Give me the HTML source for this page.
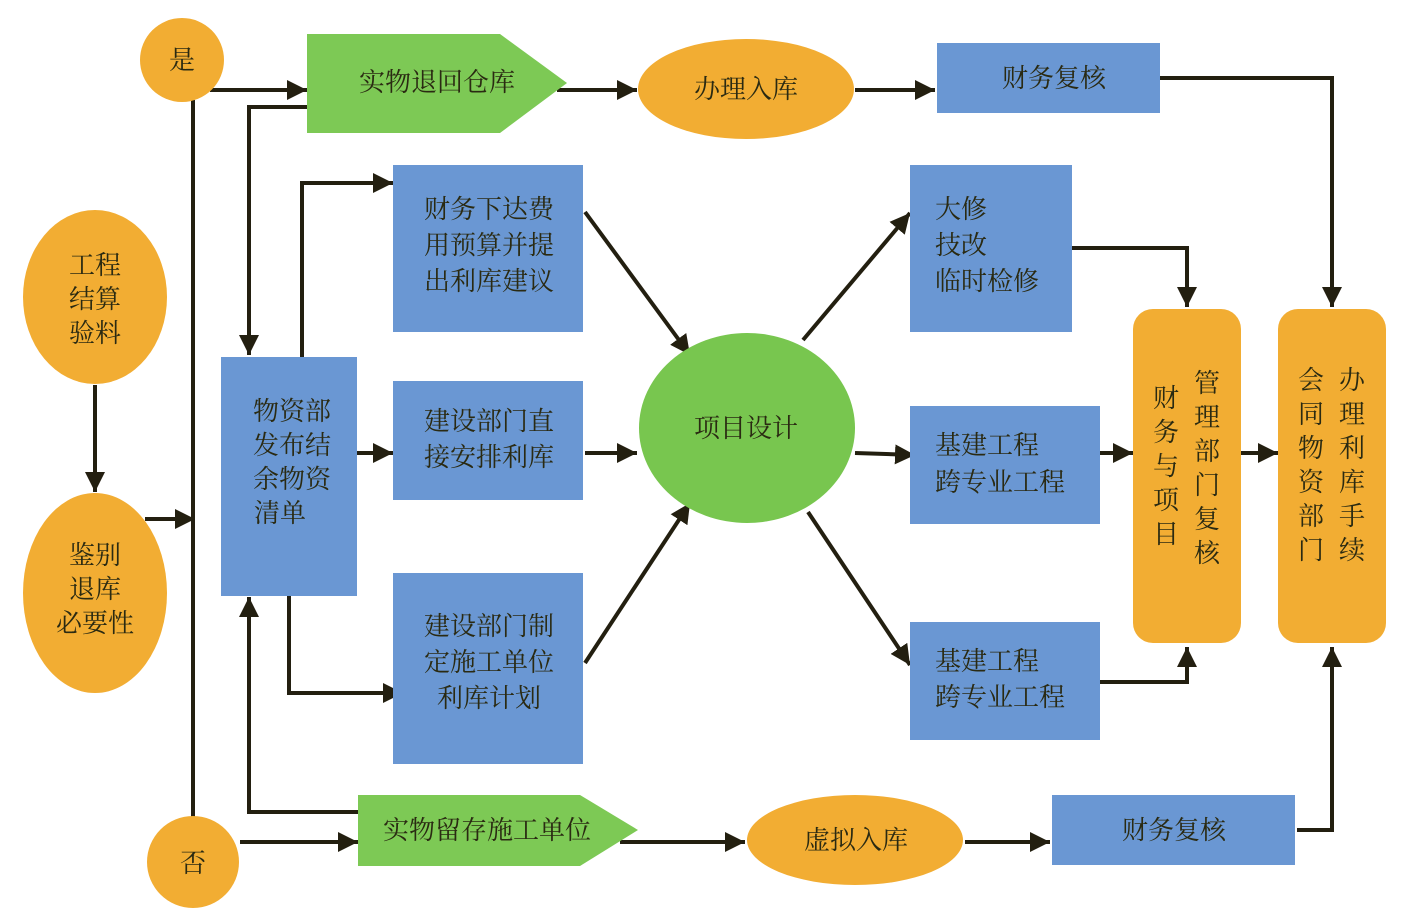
<!DOCTYPE html>
<html><head><meta charset="utf-8"><style>
html,body{margin:0;padding:0;background:#fff}
svg text{font-family:"Liberation Serif","Noto Serif CJK SC",serif;font-size:26px;fill:#2a2a12}
</style></head><body>
<svg width="1417" height="917" viewBox="0 0 1417 917" xmlns="http://www.w3.org/2000/svg">
<defs>
<marker id="b" viewBox="0 0 10 10" refX="10" refY="5" markerWidth="20" markerHeight="20" markerUnits="userSpaceOnUse" orient="auto"><path d="M0,0 L10,5 L0,10 z" fill="#231f10"/></marker></defs>
<g fill="none" stroke="#231f10" stroke-width="4" marker-end="url(#b)">
<path d="M95,385 V492"/>
<path d="M145,519 H195"/>
<path d="M210,90 H307"/>
<path d="M307,107 H249 V355"/>
<path d="M557,90 H637"/>
<path d="M855,90 H935"/>
<path d="M1160,78 H1332 V307"/>
<path d="M302,357 V183 H393"/>
<path d="M357,453 H393"/>
<path d="M289,596 V693 H403"/>
<path d="M585,212 L690,355"/>
<path d="M585,453 H637"/>
<path d="M585,663 L690,503"/>
<path d="M803,340 L910,213"/>
<path d="M855,453 L915,455"/>
<path d="M808,512 L910,665"/>
<path d="M1072,248 H1187 V307"/>
<path d="M1100,453 H1133"/>
<path d="M1100,682 H1187 V647"/>
<path d="M1241,453 H1278"/>
<path d="M240,842 H358"/>
<path d="M358,812 H249 V597"/>
<path d="M620,842 H745"/>
<path d="M965,842 H1050"/>
<path d="M1297,830 H1332 V647"/>
</g>
<path d="M193,100 V820" stroke="#231f10" stroke-width="4"/>
<g fill="#f2ad33">
<circle cx="182" cy="60" r="42"/>
<circle cx="193" cy="862" r="46"/>
<ellipse cx="95" cy="297" rx="72" ry="87"/>
<ellipse cx="95" cy="593" rx="72" ry="100"/>
<ellipse cx="746" cy="89" rx="108" ry="50"/>
<ellipse cx="855" cy="840" rx="108" ry="45"/>
<rect x="1133" y="309" width="108" height="334" rx="20"/>
<rect x="1278" y="309" width="108" height="334" rx="20"/>
</g>
<g fill="#7dc955">
<path d="M307,34 H500 L567,83 L500,133 H307 z"/>
<path d="M358,795 H580 L638,830 L580,866 H358 z"/>
<ellipse cx="747" cy="428" rx="108" ry="95" fill="#78c64f"/>
</g>
<g fill="#6a97d3">
<rect x="937" y="43" width="223" height="70"/>
<rect x="221" y="357" width="136" height="239"/>
<rect x="393" y="165" width="190" height="167"/>
<rect x="393" y="381" width="190" height="119"/>
<rect x="393" y="573" width="190" height="191"/>
<rect x="910" y="165" width="162" height="167"/>
<rect x="910" y="406" width="190" height="118"/>
<rect x="910" y="622" width="190" height="118"/>
<rect x="1052" y="795" width="243" height="70"/>
</g>
<g text-anchor="middle">
<text x="182" y="69">是</text>
<text x="193" y="872">否</text>
<text x="95" y="274">工程</text><text x="95" y="308">结算</text><text x="95" y="342">验料</text>
<text x="95" y="564">鉴别</text><text x="95" y="598">退库</text><text x="95" y="632">必要性</text>
<text x="437" y="91">实物退回仓库</text>
<text x="746" y="98">办理入库</text>
<text x="1054" y="87">财务复核</text>
<text x="292" y="420">物资部</text><text x="292" y="454">发布结</text><text x="292" y="488">余物资</text><text x="280" y="522">清单</text>
<text x="489" y="218">财务下达费</text><text x="489" y="254">用预算并提</text><text x="489" y="290">出利库建议</text>
<text x="489" y="430">建设部门直</text><text x="489" y="466">接安排利库</text>
<text x="489" y="635">建设部门制</text><text x="489" y="671">定施工单位</text><text x="489" y="707">利库计划</text>
<text x="746" y="437">项目设计</text>
<text x="487" y="839">实物留存施工单位</text>
<text x="856" y="849">虚拟入库</text>
<text x="1174" y="839">财务复核</text>
</g>
<g>
<text x="935" y="218">大修</text><text x="935" y="254">技改</text><text x="935" y="290">临时检修</text>
<text x="935" y="454">基建工程</text><text x="935" y="491">跨专业工程</text>
<text x="935" y="670">基建工程</text><text x="935" y="706">跨专业工程</text>
</g>
<g text-anchor="middle">
<text x="1207" y="392">管</text><text x="1207" y="426">理</text><text x="1207" y="460">部</text><text x="1207" y="494">门</text><text x="1207" y="528">复</text><text x="1207" y="562">核</text>
<text x="1166" y="407">财</text><text x="1166" y="441">务</text><text x="1166" y="475">与</text><text x="1166" y="509">项</text><text x="1166" y="543">目</text>
<text x="1352" y="389">办</text><text x="1352" y="423">理</text><text x="1352" y="457">利</text><text x="1352" y="491">库</text><text x="1352" y="525">手</text><text x="1352" y="559">续</text>
<text x="1311" y="389">会</text><text x="1311" y="423">同</text><text x="1311" y="457">物</text><text x="1311" y="491">资</text><text x="1311" y="525">部</text><text x="1311" y="559">门</text>
</g>
</svg>
</body></html>
